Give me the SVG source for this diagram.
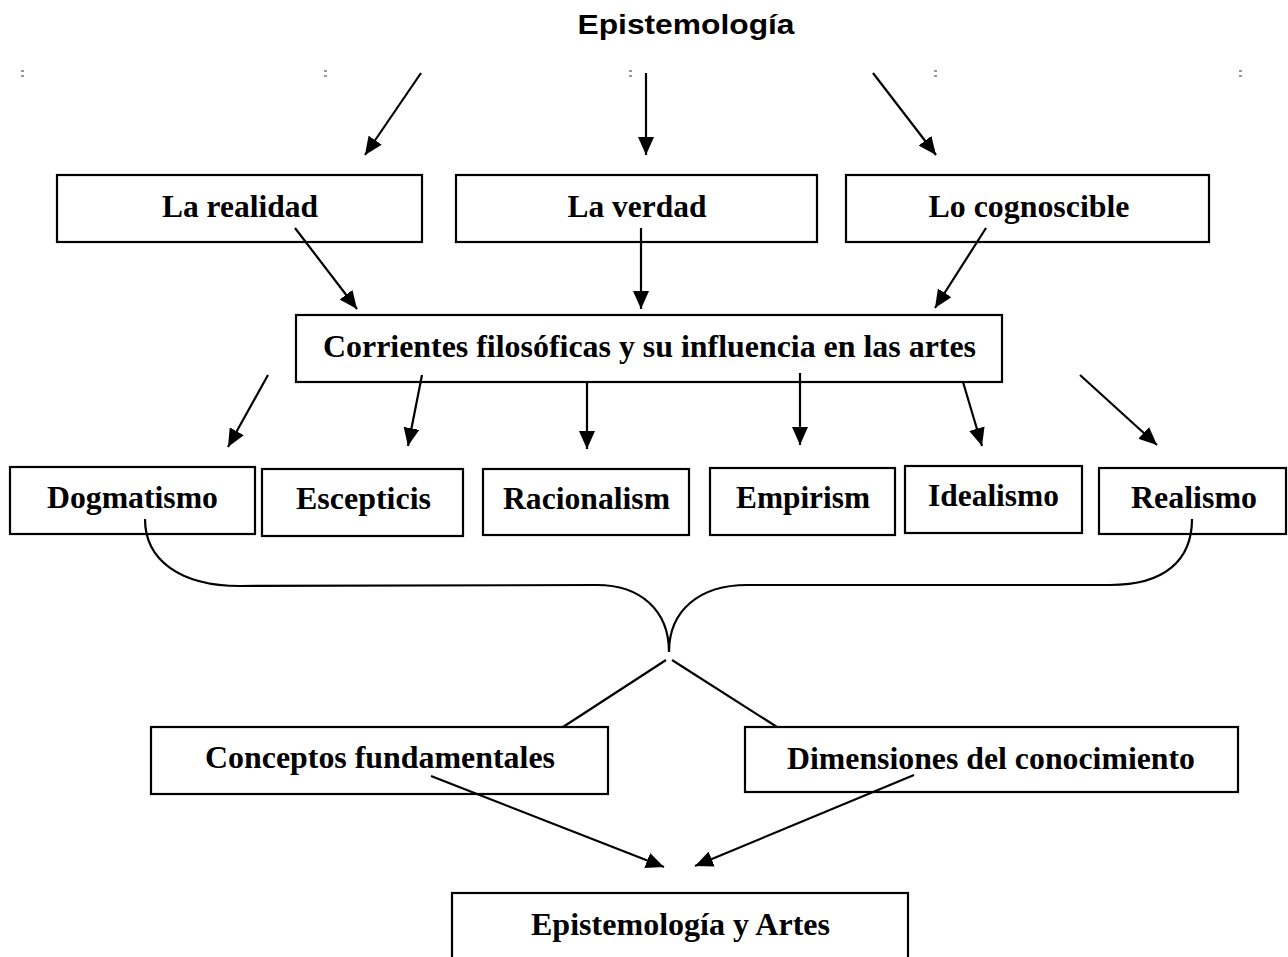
<svg xmlns="http://www.w3.org/2000/svg" width="1288" height="957" viewBox="0 0 1288 957">
<style>
.box{fill:#fff;stroke:#000;stroke-width:2.2}
.lbl{font-family:"Liberation Serif","Times New Roman",serif;font-weight:bold;font-size:31px;fill:#000;text-anchor:middle}
.title{font-family:"Liberation Sans",Arial,sans-serif;font-weight:bold;font-size:27px;fill:#000;text-anchor:middle}
.ln{fill:none;stroke:#000;stroke-width:2.2}
.arr{fill:none;stroke:#000;stroke-width:2.2;marker-end:url(#ah)}
.tick{fill:none;stroke:#333;stroke-width:1.2}
</style>
<defs>
<marker id="ah" markerUnits="userSpaceOnUse" markerWidth="19" markerHeight="16" refX="18" refY="8" orient="auto">
<path d="M0,0 L18,8 L0,16 z" fill="#000"/>
</marker>
</defs>
<rect x="0" y="0" width="1288" height="957" fill="#fff"/>

<g id="title"><text class="title" x="686" y="34" textLength="217" lengthAdjust="spacingAndGlyphs">Epistemología</text></g>

<g id="ticks">
<path class="tick" d="M21,71 h3 M21,76 h3 M324,71 h3 M324,76 h3 M629,71 h3 M629,76 h3 M934,71 h3 M934,76 h3 M1239,71 h3 M1239,76 h3"/>
</g>

<g id="n-realidad"><rect class="box" x="57" y="175" width="365" height="67"/><text class="lbl" x="240" y="217" textLength="156" lengthAdjust="spacingAndGlyphs">La realidad</text></g>
<g id="n-verdad"><rect class="box" x="456" y="175" width="361" height="67"/><text class="lbl" x="637" y="217" textLength="139" lengthAdjust="spacingAndGlyphs">La verdad</text></g>
<g id="n-cognoscible"><rect class="box" x="846" y="175" width="363" height="67"/><text class="lbl" x="1029" y="217" textLength="201" lengthAdjust="spacingAndGlyphs">Lo cognoscible</text></g>

<g id="n-corrientes"><rect class="box" x="296" y="315" width="706" height="67"/><text class="lbl" x="649.5" y="357" textLength="653" lengthAdjust="spacingAndGlyphs">Corrientes filosóficas y su influencia en las artes</text></g>

<g id="n-dogmatismo"><rect class="box" x="10" y="467" width="245" height="67"/><text class="lbl" x="132.5" y="508" textLength="171" lengthAdjust="spacingAndGlyphs">Dogmatismo</text></g>
<g id="n-escepticis"><rect class="box" x="262" y="469" width="201" height="67"/><text class="lbl" x="363.5" y="509" textLength="135" lengthAdjust="spacingAndGlyphs">Escepticis</text></g>
<g id="n-racionalism"><rect class="box" x="483" y="469" width="206" height="66"/><text class="lbl" x="586.5" y="509" textLength="167" lengthAdjust="spacingAndGlyphs">Racionalism</text></g>
<g id="n-empirism"><rect class="box" x="710" y="468" width="185" height="67"/><text class="lbl" x="803" y="508" textLength="134" lengthAdjust="spacingAndGlyphs">Empirism</text></g>
<g id="n-idealismo"><rect class="box" x="905" y="466" width="177" height="67"/><text class="lbl" x="993.5" y="506" textLength="131" lengthAdjust="spacingAndGlyphs">Idealismo</text></g>
<g id="n-realismo"><rect class="box" x="1099" y="468" width="187" height="66"/><text class="lbl" x="1194" y="508" textLength="126" lengthAdjust="spacingAndGlyphs">Realismo</text></g>

<g id="n-conceptos"><rect class="box" x="151" y="727" width="457" height="67"/><text class="lbl" x="380" y="768" textLength="350" lengthAdjust="spacingAndGlyphs">Conceptos fundamentales</text></g>
<g id="n-dimensiones"><rect class="box" x="745" y="727" width="493" height="65"/><text class="lbl" x="991" y="769" textLength="408" lengthAdjust="spacingAndGlyphs">Dimensiones del conocimiento</text></g>

<g id="n-epart"><rect class="box" x="452" y="893" width="456" height="80"/><text class="lbl" x="680.5" y="935" textLength="299" lengthAdjust="spacingAndGlyphs">Epistemología y Artes</text></g>

<g id="connectors">
<line class="arr" x1="421" y1="73" x2="365" y2="155"/>
<line class="arr" x1="646" y1="73" x2="646" y2="155"/>
<line class="arr" x1="873" y1="73" x2="936" y2="155"/>

<line class="arr" x1="295" y1="228" x2="357" y2="309"/>
<line class="arr" x1="641" y1="228" x2="641" y2="309"/>
<line class="arr" x1="986" y1="228" x2="935" y2="308"/>

<line class="arr" x1="268" y1="375" x2="228" y2="447"/>
<line class="arr" x1="422" y1="375" x2="408" y2="446"/>
<line class="arr" x1="587" y1="382" x2="587" y2="449"/>
<line class="arr" x1="800" y1="373" x2="800" y2="445"/>
<line class="arr" x1="963" y1="382" x2="982" y2="446"/>
<line class="arr" x1="1080" y1="375" x2="1157" y2="445"/>

<path class="ln" d="M145,519 C145,560 180,586 240,586 L597,585 C640,585 669,610 669,652 C669,610 700,585 747,585 L1110,585 C1165,585 1192,560 1192,519"/>

<line class="ln" x1="666" y1="660" x2="563" y2="727"/>
<line class="ln" x1="672" y1="660" x2="777" y2="727"/>

<line class="arr" x1="431" y1="776" x2="664" y2="867"/>
<line class="arr" x1="914" y1="775" x2="695" y2="866"/>
</g>
</svg>
